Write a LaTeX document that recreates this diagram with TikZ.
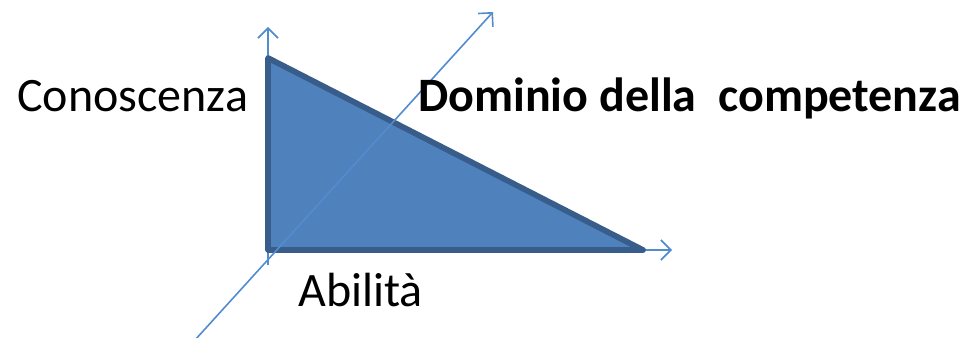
\documentclass[tikz,border=0pt]{standalone}
\usepackage{fontspec}
\setmainfont{Carlito}
\usetikzlibrary{arrows.meta}
\definecolor{axisblue}{HTML}{528CCF}
\definecolor{fillblue}{HTML}{4F81BD}
\definecolor{edgeblue}{HTML}{385D8A}
\tikzset{
  axis/.style={draw=axisblue, line width=1.2pt, -{Straight Barb[length=7.5pt,width=15pt,line width=1.2pt]}},
  lbl/.style={anchor=base west, inner sep=0pt, font=\fontsize{36pt}{40pt}\selectfont}
}
\begin{document}
\begin{tikzpicture}[x=0.75pt,y=-0.75pt]
\useasboundingbox (0,0) rectangle (961,338);
\coordinate (O) at (268,250);
\coordinate (T) at (268,58);
\coordinate (R) at (643,250);
\coordinate (vb) at (268,265);
\coordinate (vt) at (268,27);
\coordinate (ht) at (672,250);
\coordinate (db) at (195,340);
\coordinate (dt) at (493,12);
\draw[axis] (vb) -- (vt);
\draw[axis] (O) -- (ht);
\draw[fill=fillblue, draw=edgeblue, line width=4.3pt, line join=round] (O) -- (T) -- (R) -- cycle;
\draw[axis] (db) -- (dt);
\node[lbl] (con) at (17,112) {Conoscenza};
\node[lbl] (dom) at (418,112) {\bfseries Dominio della\ \ competenza};
\node[lbl] (abi) at (298,307) {Abilità};
\end{tikzpicture}
\end{document}
